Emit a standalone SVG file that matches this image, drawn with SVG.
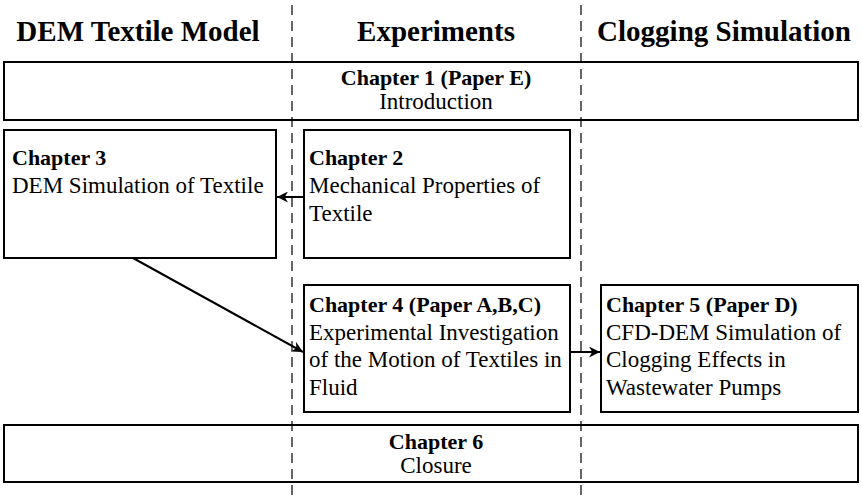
<svg xmlns="http://www.w3.org/2000/svg" width="862" height="497" viewBox="0 0 862 497">
<defs>
<marker id="arr" viewBox="0 0 10 10" refX="10" refY="5" markerWidth="11" markerHeight="11" markerUnits="userSpaceOnUse" orient="auto">
<path d="M0,0 L10,5 L0,10 L3,5 Z" fill="#000"/>
</marker>
</defs>
<style>
text{font-family:"Liberation Serif","DejaVu Serif",serif;fill:#000}
.h{font-size:29px;font-weight:bold}
.b{font-size:22px;font-weight:bold}
.t{font-size:23px}
.box{fill:#fff;stroke:#000;stroke-width:2}
.dash{stroke:#000;stroke-width:1.2;stroke-dasharray:10,6;fill:none}
.con{stroke:#000;stroke-width:2;fill:none}
</style>
<rect width="862" height="497" fill="#fff"/>
<g id="lanes">
<line class="dash" x1="292" y1="5" x2="292" y2="497"/>
<line class="dash" x1="581" y1="5" x2="581" y2="497"/>
<text class="h" x="138" y="41" text-anchor="middle">DEM Textile Model</text>
<text class="h" x="436" y="41" text-anchor="middle">Experiments</text>
<text class="h" x="724" y="41" text-anchor="middle">Clogging Simulation</text>
</g>
<g id="ch1">
<rect class="box" x="4" y="62" width="854" height="58" style="fill:none"/>
<text class="b" x="436" y="85" text-anchor="middle">Chapter 1 (Paper E)</text>
<text class="t" x="436" y="109" text-anchor="middle">Introduction</text>
</g>
<g id="ch3">
<rect class="box" x="4" y="130" width="272" height="128"/>
<text class="b" x="12" y="165">Chapter 3</text>
<text class="t" x="12" y="193">DEM Simulation of Textile</text>
</g>
<g id="ch2">
<rect class="box" x="304" y="130" width="266" height="128"/>
<text class="b" x="309" y="165">Chapter 2</text>
<text class="t" x="309" y="193">Mechanical Properties of</text>
<text class="t" x="309" y="221">Textile</text>
</g>
<g id="ch4">
<rect class="box" x="304" y="285" width="266" height="127"/>
<text class="b" x="309" y="312">Chapter 4 (Paper A,B,C)</text>
<text class="t" x="309" y="340">Experimental Investigation</text>
<text class="t" x="309" y="367">of the Motion of Textiles in</text>
<text class="t" x="309" y="395">Fluid</text>
</g>
<g id="ch5">
<rect class="box" x="601" y="285" width="257" height="127"/>
<text class="b" x="606" y="312">Chapter 5 (Paper D)</text>
<text class="t" x="606" y="340">CFD-DEM Simulation of</text>
<text class="t" x="606" y="367">Clogging Effects in</text>
<text class="t" x="606" y="395">Wastewater Pumps</text>
</g>
<g id="ch6">
<rect class="box" x="4" y="425" width="854" height="57" style="fill:none"/>
<text class="b" x="436" y="449" text-anchor="middle">Chapter 6</text>
<text class="t" x="436" y="473" text-anchor="middle">Closure</text>
</g>
<g id="connectors">
<line class="con" x1="304" y1="197" x2="277" y2="197" marker-end="url(#arr)"/>
<line class="con" x1="133" y1="258" x2="303" y2="352" marker-end="url(#arr)"/>
<line class="con" x1="570" y1="352" x2="600" y2="352" marker-end="url(#arr)"/>
</g>
</svg>
